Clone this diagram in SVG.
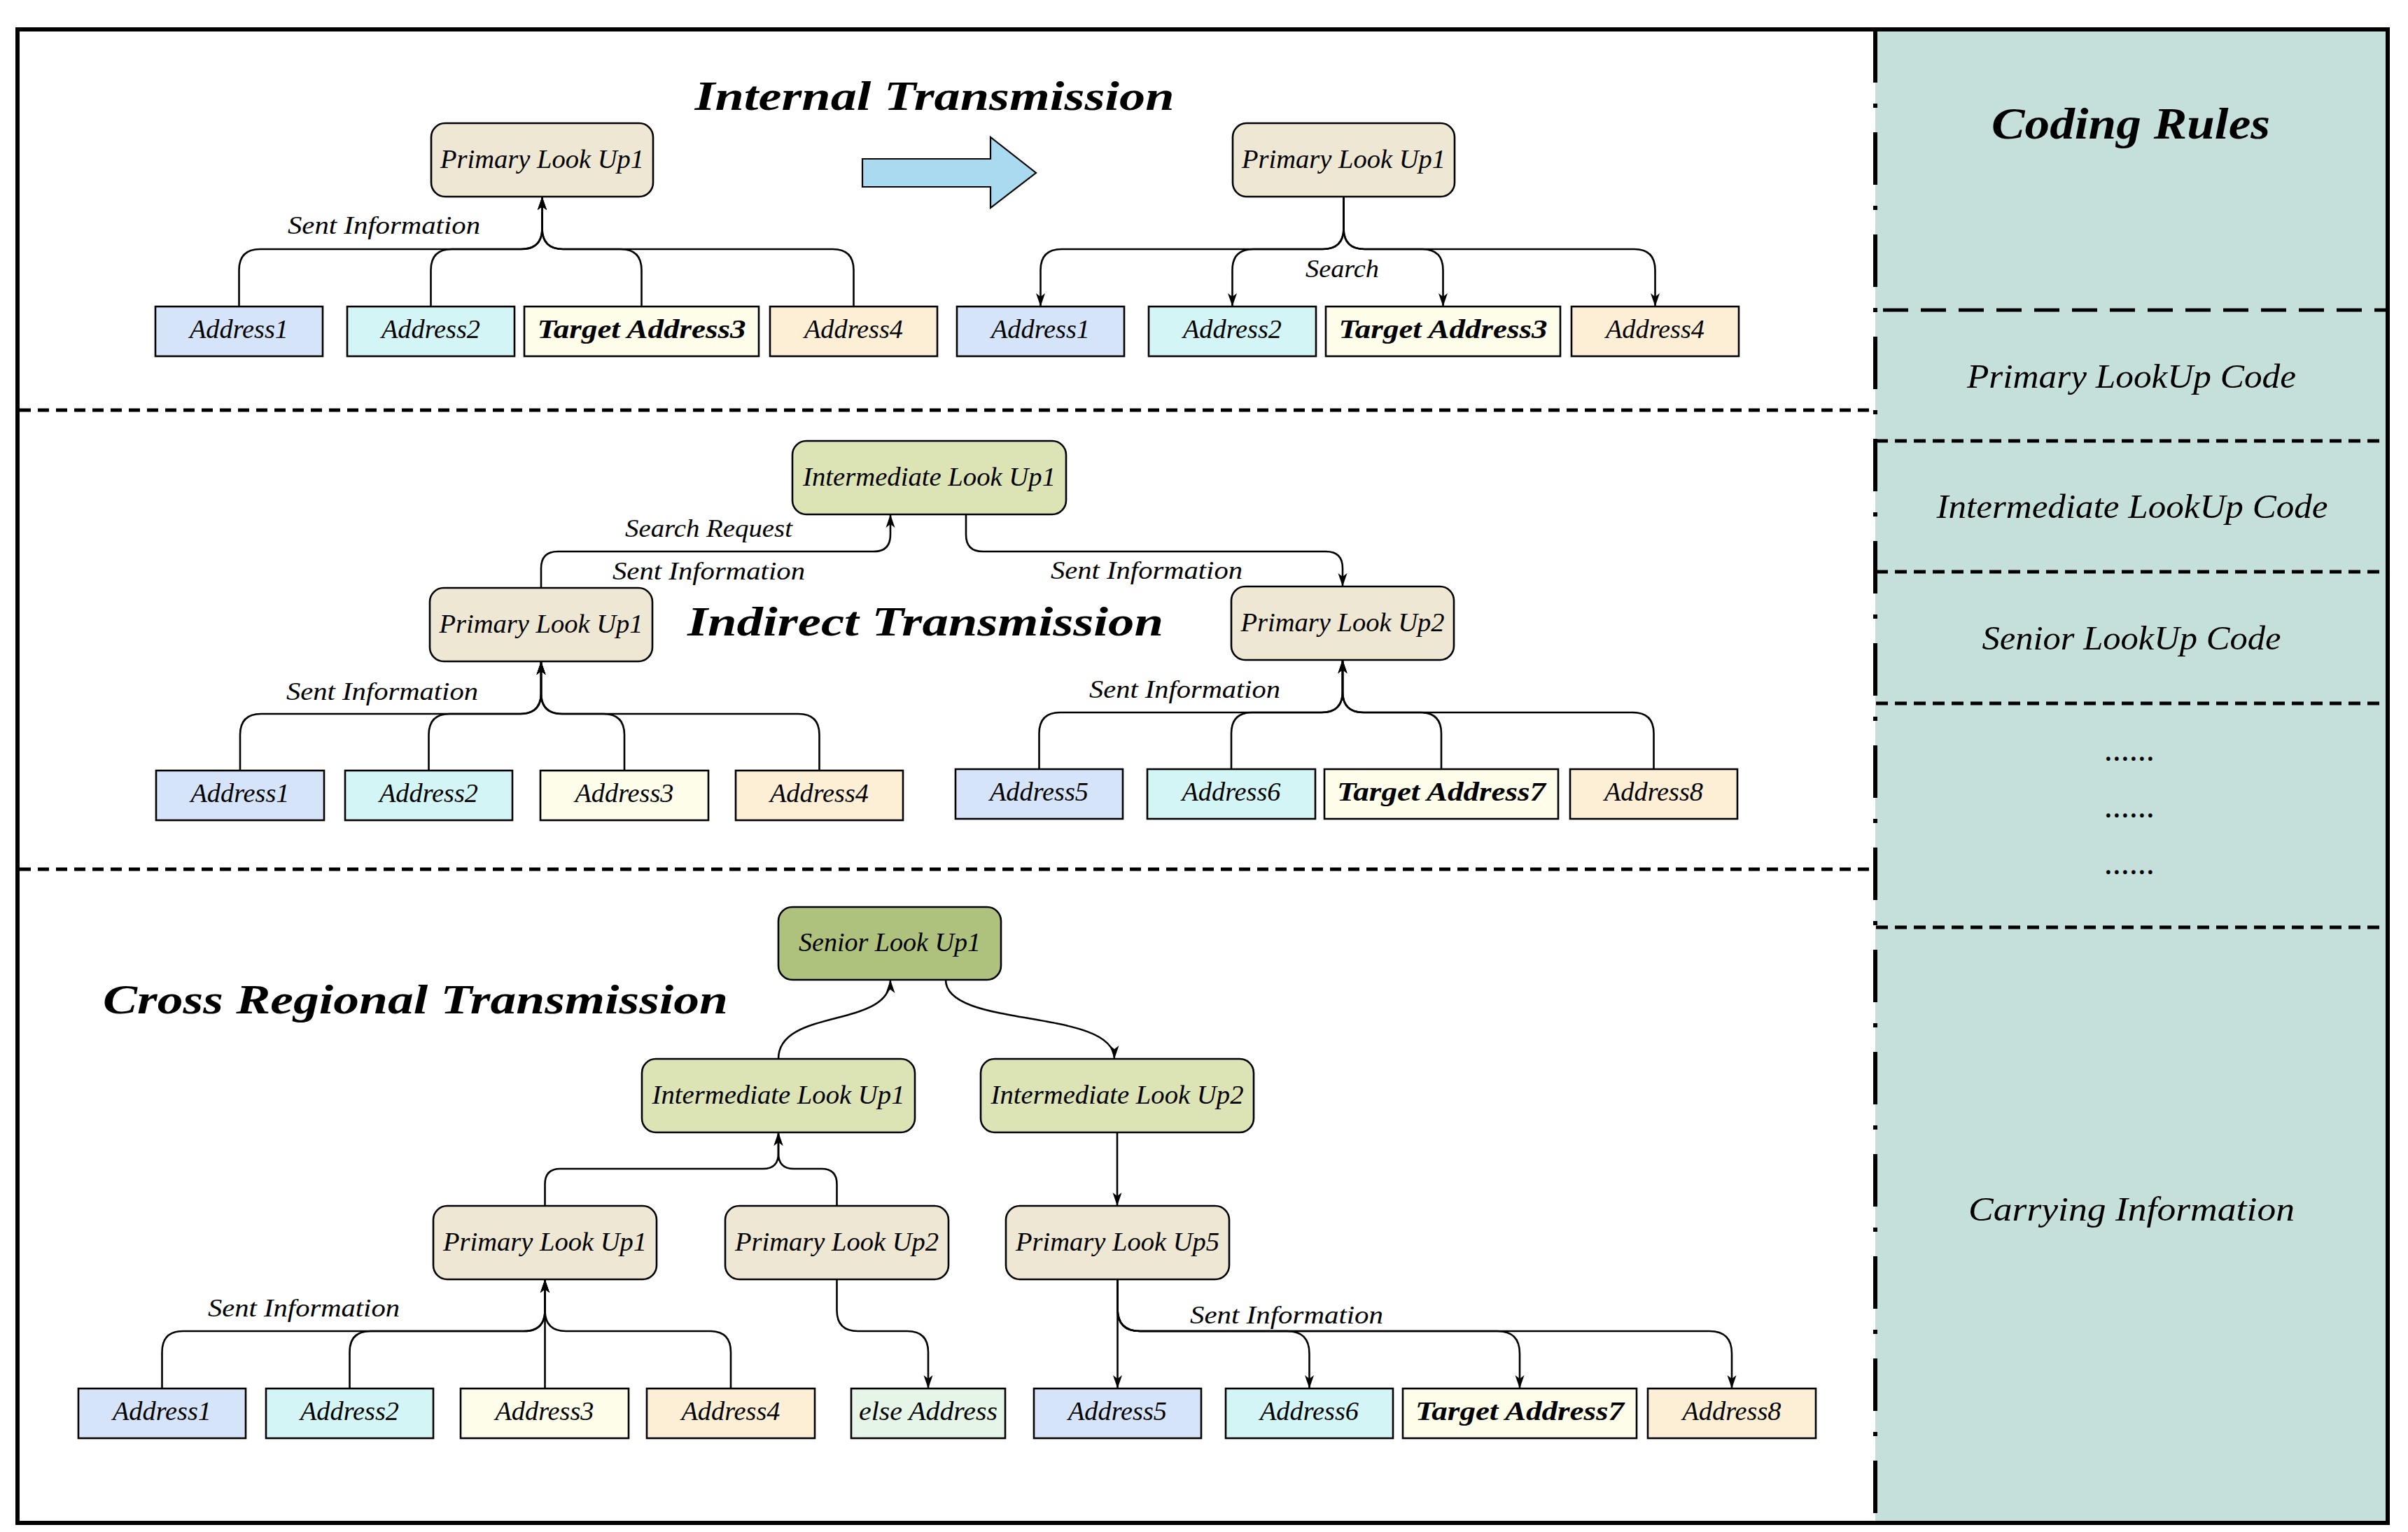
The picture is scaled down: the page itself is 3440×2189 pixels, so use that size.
<svg xmlns="http://www.w3.org/2000/svg" width="3440" height="2189" viewBox="0 0 3440 2189">
<style>
.n{stroke:#000;stroke-width:2.6}
.pri{fill:#EDE7D3}.int{fill:#DCE4B5}.sen{fill:#AFC27D}
.ab{fill:#D6E4FA}.ac{fill:#D4F5F5}.ay{fill:#FEFDE9}.ao{fill:#FDEFD5}.ae{fill:#E5F5E8}
.t{font-family:"Liberation Serif","Times New Roman",serif;font-style:italic;font-size:38px;text-anchor:middle;fill:#000}
.b{font-weight:bold}
.cl{font-family:"Liberation Serif","Times New Roman",serif;font-style:italic;font-size:36px;fill:#000}
.tt{font-family:"Liberation Serif","Times New Roman",serif;font-style:italic;font-weight:bold;font-size:60px;fill:#000}
.pt{font-family:"Liberation Serif","Times New Roman",serif;font-style:italic;font-size:48px;text-anchor:middle;fill:#000}
.c{fill:none;stroke:#000;stroke-width:2.6}
.ar{marker-end:url(#ah)}
</style>
<defs>
<marker id="ah" markerUnits="userSpaceOnUse" viewBox="-21 -8 23 16" markerWidth="23" markerHeight="16" refX="0" refY="0" orient="auto">
<path d="M0,0 L-19,-6.5 L-14,0 L-19,6.5 Z" fill="#000"/>
</marker>
</defs>
<rect x="0" y="0" width="3440" height="2189" fill="#fff"/>
<g id="frame">
<rect x="2679" y="42" width="732" height="2134" fill="#C5DFDB"/>
<rect x="25" y="42" width="3386" height="2134" fill="none" stroke="#000" stroke-width="6"/>
<line x1="2679" y1="43" x2="2679" y2="2176" stroke="#000" stroke-width="6" stroke-dasharray="75 30 6 35"/>
<line x1="28" y1="586" x2="2679" y2="586" stroke="#000" stroke-width="5" stroke-dasharray="16 10"/>
<line x1="28" y1="1242" x2="2679" y2="1242" stroke="#000" stroke-width="5" stroke-dasharray="16 10"/>
<line x1="2690" y1="443" x2="3408" y2="443" stroke="#000" stroke-width="5" stroke-dasharray="36 18"/>
<line x1="2680" y1="630" x2="3408" y2="630" stroke="#000" stroke-width="5" stroke-dasharray="17 10"/>
<line x1="2680" y1="817" x2="3408" y2="817" stroke="#000" stroke-width="5" stroke-dasharray="17 10"/>
<line x1="2680" y1="1005" x2="3408" y2="1005" stroke="#000" stroke-width="5" stroke-dasharray="17 10"/>
<line x1="2680" y1="1325" x2="3408" y2="1325" stroke="#000" stroke-width="5" stroke-dasharray="17 10"/>
</g>
<g id="titles">
<text class="tt" x="1335" y="157" text-anchor="middle" textLength="685" lengthAdjust="spacingAndGlyphs">Internal Transmission</text>
<text class="tt" x="1322" y="908" text-anchor="middle" textLength="680" lengthAdjust="spacingAndGlyphs">Indirect Transmission</text>
<text class="tt" x="147" y="1448" textLength="893" lengthAdjust="spacingAndGlyphs">Cross Regional Transmission</text>
</g>
<g id="coding-rules">
<text class="pt b" x="3044" y="198" style="font-size:64px" textLength="398" lengthAdjust="spacingAndGlyphs">Coding Rules</text>
<text class="pt" x="3045" y="554" textLength="470" lengthAdjust="spacingAndGlyphs">Primary LookUp Code</text>
<text class="pt" x="3046" y="740" textLength="559" lengthAdjust="spacingAndGlyphs">Intermediate LookUp Code</text>
<text class="pt" x="3045" y="928" textLength="427" lengthAdjust="spacingAndGlyphs">Senior LookUp Code</text>
<text class="pt" x="3043" y="1087" textLength="72" lengthAdjust="spacingAndGlyphs">......</text>
<text class="pt" x="3043" y="1168" textLength="72" lengthAdjust="spacingAndGlyphs">......</text>
<text class="pt" x="3043" y="1249" textLength="72" lengthAdjust="spacingAndGlyphs">......</text>
<text class="pt" x="3045" y="1744" textLength="466" lengthAdjust="spacingAndGlyphs">Carrying Information</text>
</g>
<g id="big-arrow">
<polygon points="1232,227 1415,227 1415,196 1480,247 1415,297 1415,267 1232,267" fill="#A9DAF0" stroke="#000" stroke-width="2.2"/>
</g>
<g id="connectors">
<path class="c ar" d="M341.5 438 V386 Q341.5 356 371.5 356 H744.5 Q774.5 356 774.5 326 V281"/>
<path class="c ar" d="M615.5 438 V386 Q615.5 356 645.5 356 H744.5 Q774.5 356 774.5 326 V281"/>
<path class="c ar" d="M916.5 438 V386 Q916.5 356 886.5 356 H804.5 Q774.5 356 774.5 326 V281"/>
<path class="c ar" d="M1219.5 438 V386 Q1219.5 356 1189.5 356 H804.5 Q774.5 356 774.5 326 V281"/>
<path class="c ar" d="M1919.5 281 V326 Q1919.5 356 1889.5 356 H1516.5 Q1486.5 356 1486.5 386 V438"/>
<path class="c ar" d="M1919.5 281 V326 Q1919.5 356 1889.5 356 H1790.5 Q1760.5 356 1760.5 386 V438"/>
<path class="c ar" d="M1919.5 281 V326 Q1919.5 356 1949.5 356 H2031.5 Q2061.5 356 2061.5 386 V438"/>
<path class="c ar" d="M1919.5 281 V326 Q1919.5 356 1949.5 356 H2334.5 Q2364.5 356 2364.5 386 V438"/>
<path class="c ar" d="M343 1101 V1050 Q343 1020 373 1020 H743 Q773 1020 773 990 V945"/>
<path class="c ar" d="M612.5 1101 V1050 Q612.5 1020 642.5 1020 H743 Q773 1020 773 990 V945"/>
<path class="c ar" d="M892 1101 V1050 Q892 1020 862 1020 H803 Q773 1020 773 990 V945"/>
<path class="c ar" d="M1170.5 1101 V1050 Q1170.5 1020 1140.5 1020 H803 Q773 1020 773 990 V945"/>
<path class="c ar" d="M1484.5 1099 V1048 Q1484.5 1018 1514.5 1018 H1888 Q1918 1018 1918 988 V943"/>
<path class="c ar" d="M1759 1099 V1048 Q1759 1018 1789 1018 H1888 Q1918 1018 1918 988 V943"/>
<path class="c ar" d="M2059 1099 V1048 Q2059 1018 2029 1018 H1948 Q1918 1018 1918 988 V943"/>
<path class="c ar" d="M2362.5 1099 V1048 Q2362.5 1018 2332.5 1018 H1948 Q1918 1018 1918 988 V943"/>
<path class="c ar" d="M773 840 V812 Q773 788 797 788 H1248 Q1272 788 1272 764 V735"/>
<path class="c ar" d="M1380 735 V764 Q1380 788 1404 788 H1894 Q1918 788 1918 812 V838"/>
<path class="c ar" d="M1112 1513 C1112 1440 1272 1470 1272 1400"/>
<path class="c ar" d="M1351 1400 C1351 1470 1592 1440 1592 1513"/>
<path class="c ar" d="M778.5 1723 V1692 Q778.5 1670 800.5 1670 H1090 Q1112 1670 1112 1648 V1618"/>
<path class="c ar" d="M1195.5 1723 V1692 Q1195.5 1670 1173.5 1670 H1134 Q1112 1670 1112 1648 V1618"/>
<path class="c ar" d="M1596 1618 V1723"/>
<path class="c ar" d="M1195.5 1828 V1872 Q1195.5 1902 1225.5 1902 H1296 Q1326 1902 1326 1932 V1984"/>
<path class="c ar" d="M1596.5 1828 V1984"/>
<path class="c ar" d="M1596.5 1828 V1870 Q1596.5 1902 1628.5 1902 H1838.5 Q1870.5 1902 1870.5 1934 V1984"/>
<path class="c ar" d="M1596.5 1828 V1870 Q1596.5 1902 1628.5 1902 H2139 Q2171 1902 2171 1934 V1984"/>
<path class="c ar" d="M1596.5 1828 V1870 Q1596.5 1902 1628.5 1902 H2442 Q2474 1902 2474 1934 V1984"/>
<path class="c ar" d="M231.5 1984 V1932 Q231.5 1902 261.5 1902 H748.5 Q778.5 1902 778.5 1872 V1828"/>
<path class="c ar" d="M499.5 1984 V1932 Q499.5 1902 529.5 1902 H748.5 Q778.5 1902 778.5 1872 V1828"/>
<path class="c ar" d="M778.5 1984 V1828"/>
<path class="c ar" d="M1044 1984 V1932 Q1044 1902 1014 1902 H808.5 Q778.5 1902 778.5 1872 V1828"/>
<text class="cl" x="411" y="334" textLength="275" lengthAdjust="spacingAndGlyphs">Sent Information</text>
<text class="cl" x="1865" y="396" textLength="105" lengthAdjust="spacingAndGlyphs">Search</text>
<text class="cl" x="893" y="767" textLength="239" lengthAdjust="spacingAndGlyphs">Search Request</text>
<text class="cl" x="875" y="828" textLength="275" lengthAdjust="spacingAndGlyphs">Sent Information</text>
<text class="cl" x="1501" y="827" textLength="274" lengthAdjust="spacingAndGlyphs">Sent Information</text>
<text class="cl" x="409" y="1000" textLength="274" lengthAdjust="spacingAndGlyphs">Sent Information</text>
<text class="cl" x="1556" y="997" textLength="273" lengthAdjust="spacingAndGlyphs">Sent Information</text>
<text class="cl" x="297" y="1881" textLength="274" lengthAdjust="spacingAndGlyphs">Sent Information</text>
<text class="cl" x="1700" y="1891" textLength="276" lengthAdjust="spacingAndGlyphs">Sent Information</text>
</g>
<g id="s1-primary1-left"><rect class="n pri" x="616" y="176" width="317" height="105" rx="20"/><text class="t" x="774.5" y="240" textLength="291" lengthAdjust="spacingAndGlyphs">Primary Look Up1</text></g>
<g id="s1-primary1-right"><rect class="n pri" x="1761" y="176" width="317" height="105" rx="20"/><text class="t" x="1919.5" y="240" textLength="291" lengthAdjust="spacingAndGlyphs">Primary Look Up1</text></g>
<g id="s1-l-address1"><rect class="n ab" x="222" y="438" width="239" height="71"/><text class="t" x="341.5" y="483" textLength="141" lengthAdjust="spacingAndGlyphs">Address1</text></g>
<g id="s1-l-address2"><rect class="n ac" x="496" y="438" width="239" height="71"/><text class="t" x="615.5" y="483" textLength="141" lengthAdjust="spacingAndGlyphs">Address2</text></g>
<g id="s1-l-target3"><rect class="n ay" x="749" y="438" width="335" height="71"/><text class="t b" x="916.5" y="483" textLength="298" lengthAdjust="spacingAndGlyphs">Target Address3</text></g>
<g id="s1-l-address4"><rect class="n ao" x="1100" y="438" width="239" height="71"/><text class="t" x="1219.5" y="483" textLength="141" lengthAdjust="spacingAndGlyphs">Address4</text></g>
<g id="s1-r-address1"><rect class="n ab" x="1367" y="438" width="239" height="71"/><text class="t" x="1486.5" y="483" textLength="141" lengthAdjust="spacingAndGlyphs">Address1</text></g>
<g id="s1-r-address2"><rect class="n ac" x="1641" y="438" width="239" height="71"/><text class="t" x="1760.5" y="483" textLength="141" lengthAdjust="spacingAndGlyphs">Address2</text></g>
<g id="s1-r-target3"><rect class="n ay" x="1894" y="438" width="335" height="71"/><text class="t b" x="2061.5" y="483" textLength="298" lengthAdjust="spacingAndGlyphs">Target Address3</text></g>
<g id="s1-r-address4"><rect class="n ao" x="2245" y="438" width="239" height="71"/><text class="t" x="2364.5" y="483" textLength="141" lengthAdjust="spacingAndGlyphs">Address4</text></g>
<g id="s2-intermediate1"><rect class="n int" x="1132" y="630" width="391" height="105" rx="20"/><text class="t" x="1327.5" y="694" textLength="361" lengthAdjust="spacingAndGlyphs">Intermediate Look Up1</text></g>
<g id="s2-primary1"><rect class="n pri" x="614" y="840" width="318" height="105" rx="20"/><text class="t" x="773" y="904" textLength="291" lengthAdjust="spacingAndGlyphs">Primary Look Up1</text></g>
<g id="s2-primary2"><rect class="n pri" x="1759" y="838" width="318" height="105" rx="20"/><text class="t" x="1918" y="902" textLength="291" lengthAdjust="spacingAndGlyphs">Primary Look Up2</text></g>
<g id="s2-address1"><rect class="n ab" x="223" y="1101" width="240" height="71"/><text class="t" x="343" y="1146" textLength="141" lengthAdjust="spacingAndGlyphs">Address1</text></g>
<g id="s2-address2"><rect class="n ac" x="493" y="1101" width="239" height="71"/><text class="t" x="612.5" y="1146" textLength="141" lengthAdjust="spacingAndGlyphs">Address2</text></g>
<g id="s2-address3"><rect class="n ay" x="772" y="1101" width="240" height="71"/><text class="t" x="892" y="1146" textLength="141" lengthAdjust="spacingAndGlyphs">Address3</text></g>
<g id="s2-address4"><rect class="n ao" x="1051" y="1101" width="239" height="71"/><text class="t" x="1170.5" y="1146" textLength="141" lengthAdjust="spacingAndGlyphs">Address4</text></g>
<g id="s2-address5"><rect class="n ab" x="1365" y="1099" width="239" height="71"/><text class="t" x="1484.5" y="1144" textLength="141" lengthAdjust="spacingAndGlyphs">Address5</text></g>
<g id="s2-address6"><rect class="n ac" x="1639" y="1099" width="240" height="71"/><text class="t" x="1759" y="1144" textLength="141" lengthAdjust="spacingAndGlyphs">Address6</text></g>
<g id="s2-target7"><rect class="n ay" x="1892" y="1099" width="334" height="71"/><text class="t b" x="2059" y="1144" textLength="298" lengthAdjust="spacingAndGlyphs">Target Address7</text></g>
<g id="s2-address8"><rect class="n ao" x="2243" y="1099" width="239" height="71"/><text class="t" x="2362.5" y="1144" textLength="141" lengthAdjust="spacingAndGlyphs">Address8</text></g>
<g id="s3-senior1"><rect class="n sen" x="1112" y="1296" width="318" height="104" rx="20"/><text class="t" x="1271" y="1359" textLength="260" lengthAdjust="spacingAndGlyphs">Senior Look Up1</text></g>
<g id="s3-intermediate1"><rect class="n int" x="917" y="1513" width="390" height="105" rx="20"/><text class="t" x="1112" y="1577" textLength="361" lengthAdjust="spacingAndGlyphs">Intermediate Look Up1</text></g>
<g id="s3-intermediate2"><rect class="n int" x="1401" y="1513" width="390" height="105" rx="20"/><text class="t" x="1596" y="1577" textLength="361" lengthAdjust="spacingAndGlyphs">Intermediate Look Up2</text></g>
<g id="s3-primary1"><rect class="n pri" x="619" y="1723" width="319" height="105" rx="20"/><text class="t" x="778.5" y="1787" textLength="291" lengthAdjust="spacingAndGlyphs">Primary Look Up1</text></g>
<g id="s3-primary2"><rect class="n pri" x="1036" y="1723" width="319" height="105" rx="20"/><text class="t" x="1195.5" y="1787" textLength="291" lengthAdjust="spacingAndGlyphs">Primary Look Up2</text></g>
<g id="s3-primary5"><rect class="n pri" x="1437" y="1723" width="319" height="105" rx="20"/><text class="t" x="1596.5" y="1787" textLength="291" lengthAdjust="spacingAndGlyphs">Primary Look Up5</text></g>
<g id="s3-address1"><rect class="n ab" x="112" y="1984" width="239" height="71"/><text class="t" x="231.5" y="2029" textLength="141" lengthAdjust="spacingAndGlyphs">Address1</text></g>
<g id="s3-address2"><rect class="n ac" x="380" y="1984" width="239" height="71"/><text class="t" x="499.5" y="2029" textLength="141" lengthAdjust="spacingAndGlyphs">Address2</text></g>
<g id="s3-address3"><rect class="n ay" x="658" y="1984" width="240" height="71"/><text class="t" x="778" y="2029" textLength="141" lengthAdjust="spacingAndGlyphs">Address3</text></g>
<g id="s3-address4"><rect class="n ao" x="924" y="1984" width="240" height="71"/><text class="t" x="1044" y="2029" textLength="141" lengthAdjust="spacingAndGlyphs">Address4</text></g>
<g id="s3-else-address"><rect class="n ae" x="1216" y="1984" width="220" height="71"/><text class="t" x="1326" y="2029" textLength="198" lengthAdjust="spacingAndGlyphs">else Address</text></g>
<g id="s3-address5"><rect class="n ab" x="1477" y="1984" width="239" height="71"/><text class="t" x="1596.5" y="2029" textLength="141" lengthAdjust="spacingAndGlyphs">Address5</text></g>
<g id="s3-address6"><rect class="n ac" x="1751" y="1984" width="239" height="71"/><text class="t" x="1870.5" y="2029" textLength="141" lengthAdjust="spacingAndGlyphs">Address6</text></g>
<g id="s3-target7"><rect class="n ay" x="2004" y="1984" width="334" height="71"/><text class="t b" x="2171" y="2029" textLength="298" lengthAdjust="spacingAndGlyphs">Target Address7</text></g>
<g id="s3-address8"><rect class="n ao" x="2354" y="1984" width="240" height="71"/><text class="t" x="2474" y="2029" textLength="141" lengthAdjust="spacingAndGlyphs">Address8</text></g>
</svg>
